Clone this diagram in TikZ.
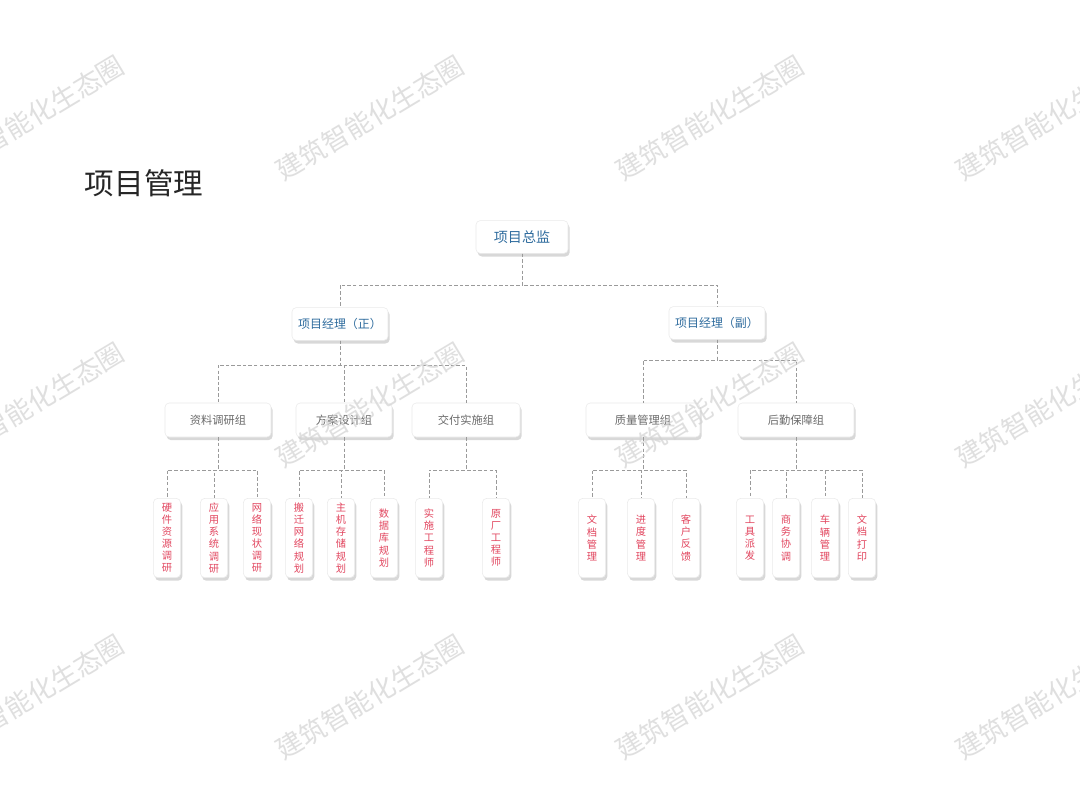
\documentclass[tikz,border=0pt]{standalone}
\usepackage{fontspec}
\setmainfont{Noto Sans CJK SC}
\usetikzlibrary{shadows, calc}
\definecolor{HeadBlue}{HTML}{2F6C9E}
\definecolor{GroupGray}{HTML}{6A6A6A}
\definecolor{LeafRed}{HTML}{E2465F}
\definecolor{LinkGray}{HTML}{9A9A9A}
\definecolor{MarkGray}{HTML}{D2D2D2}
\tikzset{
  card/.style={draw=black!8, rounded corners=3pt, fill=white, align=center, drop shadow={opacity=0.3, shadow xshift=1.2pt, shadow yshift=-2.2pt}},
  headbox/.style={card, minimum width=2.3cm, minimum height=0.82cm, text=HeadBlue, font=\fontsize{8.5}{10}\selectfont},
  groupbox/.style={card, minimum width=2.65cm, minimum height=0.85cm, text=GroupGray, font=\fontsize{8}{10}\selectfont},
  leafbox/.style={card, minimum width=0.68cm, minimum height=1.98cm, inner sep=1pt, text=LeafRed, font=\fontsize{7.3}{8.6}\selectfont},
  link/.style={draw=LinkGray, line width=0.7pt, dash pattern=on 2.5pt off 1.5pt},
  watermark/.style={text=MarkGray, opacity=0.7, rotate=31, font=\fontsize{19}{19}\selectfont}
}

\begin{document}
\begin{tikzpicture}[x=0.025cm, y=-0.025cm]
\path[use as bounding box, clip] (0,0) rectangle (1080,810);
\fill[white] (0,0) rectangle (1080,810);

% title
\node[font=\fontsize{21}{24}\selectfont, text=black!85] (title) at (144,183) {项目管理};

% top levels
\node[headbox, font=\fontsize{10}{12}\selectfont] (ceo) at (522,237) {项目总监};
\node[headbox, minimum width=2.4cm] (pmA) at (340,324) {项目经理（正）};
\node[headbox, minimum width=2.4cm] (pmB) at (717,323) {项目经理（副）};

% groups
\node[groupbox] (grpA) at (218,420) {资料调研组};
\node[groupbox, minimum width=2.4cm] (grpB) at (344,420) {方案设计组};
\node[groupbox, minimum width=2.7cm] (grpC) at (466,420) {交付实施组};
\node[groupbox, minimum width=2.85cm] (grpD) at (643,420) {质量管理组};
\node[groupbox, minimum width=2.9cm] (grpE) at (796,420) {后勤保障组};

% leaves
\node[leafbox] (lfA1) at (167,538) {硬\\件\\资\\源\\调\\研};
\node[leafbox] (lfA2) at (214,538) {应\\用\\系\\统\\调\\研};
\node[leafbox] (lfA3) at (257,538) {网\\络\\现\\状\\调\\研};
\node[leafbox] (lfB1) at (299,538) {搬\\迁\\网\\络\\规\\划};
\node[leafbox] (lfB2) at (341,538) {主\\机\\存\\储\\规\\划};
\node[leafbox] (lfB3) at (384,538) {数\\据\\库\\规\\划};
\node[leafbox] (lfC1) at (429,538) {实\\施\\工\\程\\师};
\node[leafbox] (lfC2) at (496,538) {原\\厂\\工\\程\\师};
\node[leafbox] (lfD1) at (592,538) {文\\档\\管\\理};
\node[leafbox] (lfD2) at (641,538) {进\\度\\管\\理};
\node[leafbox] (lfD3) at (686,538) {客\\户\\反\\馈};
\node[leafbox] (lfE1) at (750,538) {工\\具\\派\\发};
\node[leafbox] (lfE2) at (786,538) {商\\务\\协\\调};
\node[leafbox] (lfE3) at (825,538) {车\\辆\\管\\理};
\node[leafbox] (lfE4) at (862,538) {文\\档\\打\\印};

% bus levels
\coordinate (bus0) at (0,285);
\coordinate (busA) at (0,365);
\coordinate (busB) at (0,360);
\coordinate (busL) at (0,470);

% connectors
\foreach \c in {pmA,pmB}
  \draw[link] (ceo.south) |- (\c.north |- bus0) -- (\c.north);
\foreach \c in {grpA,grpB,grpC}
  \draw[link] (pmA.south) |- (\c.north |- busA) -- (\c.north);
\foreach \c in {grpD,grpE}
  \draw[link] (pmB.south) |- (\c.north |- busB) -- (\c.north);
\foreach \p/\c in {grpA/lfA1,grpA/lfA2,grpA/lfA3,grpB/lfB1,grpB/lfB2,grpB/lfB3,grpC/lfC1,grpC/lfC2,grpD/lfD1,grpD/lfD2,grpD/lfD3,grpE/lfE1,grpE/lfE2,grpE/lfE3,grpE/lfE4}
  \draw[link] (\p.south) |- (\c.north |- busL) -- (\c.north);

% watermarks
\foreach \wx in {30,370,710,1050}
  \foreach \wy in {118,405,697}
    \node[watermark] (wm-\wx-\wy) at (\wx,\wy) {建筑智能化生态圈};
\end{tikzpicture}
\end{document}
